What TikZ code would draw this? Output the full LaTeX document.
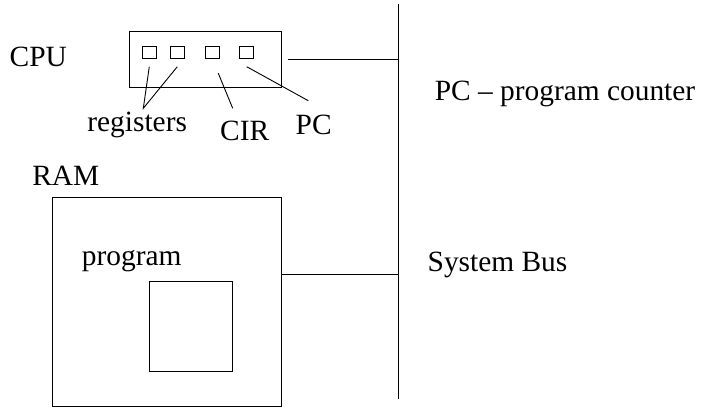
\documentclass[tikz,border=0pt]{standalone}
\usepackage{fontspec}
\setmainfont{Liberation Serif}
\begin{document}
\begin{tikzpicture}[x=1bp,y=-1bp,line width=0.9bp,
  box/.style={draw,rectangle,inner sep=0pt},
  reg/.style={box,minimum width=14bp,minimum height=12.5bp},
  lbl/.style={anchor=base,inner sep=0pt,font=\fontsize{29.4bp}{34bp}\selectfont}]
\useasboundingbox (0,0) rectangle (705,419);
% bus
\coordinate (bustop) at (398,4);
\coordinate (busbot) at (398,399);
\draw (bustop) -- (busbot);
% CPU
\node[box,minimum width=152.4bp,minimum height=56bp] (cpu) at (205.5,59.7) {};
\node[reg] (r1) at (149.5,52.2) {};
\node[reg] (r2) at (177,52.2) {};
\node[reg] (cir) at (212.3,52.2) {};
\node[reg] (pc) at (246.3,52.2) {};
\coordinate (cpuout) at (287.7,59.3);
\coordinate (cpubus) at (398,59.3);
\draw (cpuout) -- (cpubus);
% labels
\node[lbl] (cpulbl) at (38.3,66) {CPU};
\node[lbl] (reglbl) at (137.2,131.7) {registers};
\node[lbl] (cirlbl) at (244.7,140) {CIR};
\node[lbl] (pclbl) at (313.7,134.3) {PC};
\node[lbl] (pcdesc) at (565,100) {PC -- program counter};
\node[lbl] (buslbl) at (497.5,271.7) {System Bus};
\node[lbl] (ramlbl) at (65.8,185) {RAM};
% leaders
\coordinate (a1) at (149.3,66.7);
\coordinate (a2) at (177.3,66.7);
\coordinate (ar) at (143.3,108.3);
\coordinate (c1) at (218.3,73.3);
\coordinate (c2) at (232.7,108.3);
\coordinate (p1) at (246.7,66.7);
\coordinate (p2) at (308.3,100.7);
\draw (a1) -- (ar) -- (a2);
\draw (c1) -- (c2);
\draw (p1) -- (p2);
% RAM
\node[box,minimum width=229.4bp,minimum height=208.3bp] (ram) at (167,301.8) {};
\node[box,minimum width=83bp,minimum height=90bp] (prog) at (190.8,326) {};
\node[lbl] (proglbl) at (131.7,265) {program};
\coordinate (rambus) at (398,274);
\draw (ram.east |- rambus) -- (rambus);
\end{tikzpicture}
\end{document}
